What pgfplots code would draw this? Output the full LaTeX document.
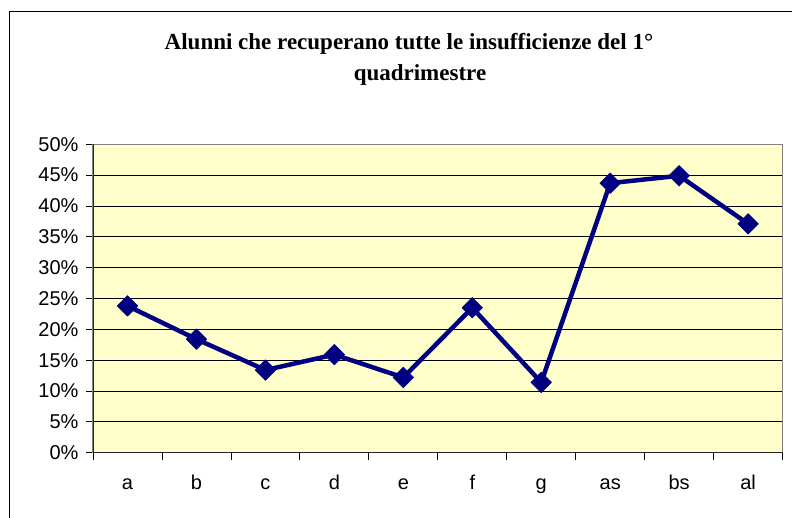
\documentclass[border=0pt]{standalone}
\usepackage{pgfplots}
\pgfplotsset{compat=1.18}
\usepackage{fontspec}
\setmainfont{Liberation Sans}
\newfontfamily\titlefont{Liberation Serif}
\definecolor{plotbg}{HTML}{FFFFCC}
\definecolor{navyline}{HTML}{000080}
\begin{document}
\begin{tikzpicture}[x=1pt,y=1pt]
\useasboundingbox (0pt,0pt) rectangle (792pt,518pt);
\fill[white] (0pt,0pt) rectangle (792pt,518pt);
\draw[black, line width=1pt] (9pt,0pt) -- (9pt,506pt) -- (792pt,506pt);
\node[anchor=base, font=\titlefont\bfseries\fontsize{23}{27}\selectfont, inner sep=0pt] at (409pt,468pt) {Alunni che recuperano tutte le insufficienze del 1°};
\node[anchor=base, font=\titlefont\bfseries\fontsize{23}{27}\selectfont, inner sep=0pt] at (420pt,437pt) {quadrimestre};
\begin{axis}[
  at={(93pt,65.3pt)}, anchor=south west,
  scale only axis, width=689.6pt, height=308.4pt,
  xmin=0.5, xmax=10.5, ymin=0, ymax=50,
  clip=false,
  axis background/.style={fill=plotbg},
  axis line style={draw=gray, line width=1.2pt},
  ytick={0,5,...,50},
  yticklabels={0\%,5\%,10\%,15\%,20\%,25\%,30\%,35\%,40\%,45\%,50\%},
  xtick={0.5,1.5,...,10.5},
  xticklabels={},
  extra x ticks={1,2,...,10},
  extra x tick labels={a,b,c,d,e,f,g,as,bs,al},
  extra x tick style={major tick length=0pt, grid=none,
    xticklabel style={anchor=base, yshift=-37pt}},
  xtick pos=left, ytick pos=left,
  tick align=outside,
  major tick length=7pt,
  tick style={black, line width=0.8pt},
  ymajorgrids,
  major grid style={black, line width=0.8pt},
  ticklabel style={font=\fontsize{20}{24}\selectfont},
  yticklabel style={xshift=-4pt},
]
\addplot[navyline, line width=4.5pt, line join=round, mark=square*, mark size=7.3pt,
  mark options={rotate=45, solid, line width=0.5pt, fill=navyline}]
  coordinates {(1,23.8)(2,18.4)(3,13.4)(4,15.9)(5,12.2)(6,23.5)(7,11.4)(8,43.7)(9,44.9)(10,37.1)};
\draw[black!85, line width=1pt] (rel axis cs:0,1) -- (rel axis cs:0,0) -- (rel axis cs:1,0);
\end{axis}
\end{tikzpicture}
\end{document}
